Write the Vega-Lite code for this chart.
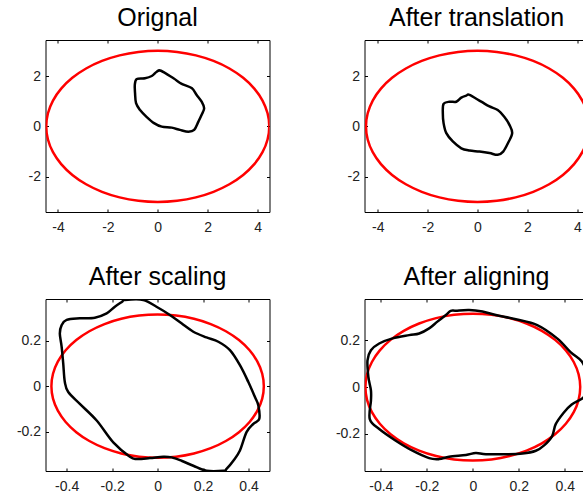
{
  "$schema": "https://vega.github.io/schema/vega-lite/v6.json",
  "padding": {"left": 15.5, "top": 5, "right": 0, "bottom": 0},
  "background": "white",
  "columns": 2,
  "spacing": {"row": 87, "column": 95},
  "bounds": "flush",
  "config": {
    "view": {"stroke": "#000", "strokeWidth": 1},
    "title": {"font": "Liberation Sans", "fontSize": 25, "fontWeight": "normal", "color": "#000", "frame": "group", "anchor": "middle", "baseline": "alphabetic", "offset": 9},
    "axis": {"domain": false, "grid": false, "ticks": true, "tickSize": -3, "tickColor": "#000", "tickWidth": 1, "labelFont": "Liberation Sans", "labelFontSize": 14, "labelColor": "#222", "labelFlush": false, "labelOverlap": false},
    "axisX": {"labelPadding": 11},
    "axisY": {"labelPadding": 8}
  },
  "datasets": {
    "e1": [
      {"i":0,"x":4.47,"y":0},{"i":1,"x":4.402,"y":0.521},{"i":2,"x":4.2,"y":1.026},{"i":3,"x":3.871,"y":1.5},{"i":4,"x":3.424,"y":1.928},{"i":5,"x":2.873,"y":2.298},{"i":6,"x":2.235,"y":2.598},{"i":7,"x":1.529,"y":2.819},{"i":8,"x":0.776,"y":2.954},{"i":9,"x":0,"y":3.0},
      {"i":10,"x":-0.776,"y":2.954},{"i":11,"x":-1.529,"y":2.819},{"i":12,"x":-2.235,"y":2.598},{"i":13,"x":-2.873,"y":2.298},{"i":14,"x":-3.424,"y":1.928},{"i":15,"x":-3.871,"y":1.5},{"i":16,"x":-4.2,"y":1.026},{"i":17,"x":-4.402,"y":0.521},{"i":18,"x":-4.47,"y":0},
      {"i":19,"x":-4.402,"y":-0.521},{"i":20,"x":-4.2,"y":-1.026},{"i":21,"x":-3.871,"y":-1.5},{"i":22,"x":-3.424,"y":-1.928},{"i":23,"x":-2.873,"y":-2.298},{"i":24,"x":-2.235,"y":-2.598},{"i":25,"x":-1.529,"y":-2.819},{"i":26,"x":-0.776,"y":-2.954},{"i":27,"x":0,"y":-3.0},
      {"i":28,"x":0.776,"y":-2.954},{"i":29,"x":1.529,"y":-2.819},{"i":30,"x":2.235,"y":-2.598},{"i":31,"x":2.873,"y":-2.298},{"i":32,"x":3.424,"y":-1.928},{"i":33,"x":3.871,"y":-1.5},{"i":34,"x":4.2,"y":-1.026},{"i":35,"x":4.402,"y":-0.521}
    ],
    "e2": [
      {"i":0,"x":0.467,"y":0},{"i":1,"x":0.46,"y":0.0547},{"i":2,"x":0.4388,"y":0.1077},{"i":3,"x":0.4044,"y":0.1575},{"i":4,"x":0.3577,"y":0.2025},{"i":5,"x":0.3002,"y":0.2413},{"i":6,"x":0.2335,"y":0.2728},{"i":7,"x":0.1597,"y":0.296},{"i":8,"x":0.0811,"y":0.3102},{"i":9,"x":0,"y":0.315},
      {"i":10,"x":-0.0811,"y":0.3102},{"i":11,"x":-0.1597,"y":0.296},{"i":12,"x":-0.2335,"y":0.2728},{"i":13,"x":-0.3002,"y":0.2413},{"i":14,"x":-0.3577,"y":0.2025},{"i":15,"x":-0.4044,"y":0.1575},{"i":16,"x":-0.4388,"y":0.1077},{"i":17,"x":-0.46,"y":0.0547},{"i":18,"x":-0.467,"y":0},
      {"i":19,"x":-0.46,"y":-0.0547},{"i":20,"x":-0.4388,"y":-0.1077},{"i":21,"x":-0.4044,"y":-0.1575},{"i":22,"x":-0.3577,"y":-0.2025},{"i":23,"x":-0.3002,"y":-0.2413},{"i":24,"x":-0.2335,"y":-0.2728},{"i":25,"x":-0.1597,"y":-0.296},{"i":26,"x":-0.0811,"y":-0.3102},{"i":27,"x":0,"y":-0.315},
      {"i":28,"x":0.0811,"y":-0.3102},{"i":29,"x":0.1597,"y":-0.296},{"i":30,"x":0.2335,"y":-0.2728},{"i":31,"x":0.3002,"y":-0.2413},{"i":32,"x":0.3577,"y":-0.2025},{"i":33,"x":0.4044,"y":-0.1575},{"i":34,"x":0.4388,"y":-0.1077},{"i":35,"x":0.46,"y":-0.0547}
    ],
    "c1": [
      {"i":0,"x":0.13,"y":2.21},{"i":1,"x":0.63,"y":1.91},{"i":2,"x":0.96,"y":1.69},{"i":3,"x":1.36,"y":1.52},{"i":4,"x":1.56,"y":1.25},{"i":5,"x":1.76,"y":0.98},{"i":6,"x":1.86,"y":0.72},{"i":7,"x":1.76,"y":0.46},{"i":8,"x":1.63,"y":0.19},{"i":9,"x":1.46,"y":-0.14},{"i":10,"x":1.23,"y":-0.21},{"i":11,"x":0.89,"y":-0.14},{"i":12,"x":0.56,"y":-0.05},{"i":13,"x":0.16,"y":-0.01},{"i":14,"x":-0.15,"y":0.13},{"i":15,"x":-0.44,"y":0.37},{"i":16,"x":-0.71,"y":0.65},{"i":17,"x":-0.87,"y":0.92},{"i":18,"x":-0.91,"y":1.32},{"i":19,"x":-0.92,"y":1.65},{"i":20,"x":-0.84,"y":1.88},{"i":21,"x":-0.51,"y":1.91},{"i":22,"x":-0.24,"y":2.0},{"i":23,"x":-0.04,"y":2.17}
    ],
    "c2": [
      {"i":0,"x":-0.32,"y":1.25},{"i":1,"x":0.15,"y":0.98},{"i":2,"x":0.48,"y":0.79},{"i":3,"x":0.81,"y":0.65},{"i":4,"x":1.08,"y":0.37},{"i":5,"x":1.28,"y":0.06},{"i":6,"x":1.39,"y":-0.27},{"i":7,"x":1.22,"y":-0.67},{"i":8,"x":1.03,"y":-1.0},{"i":9,"x":0.81,"y":-1.13},{"i":10,"x":0.48,"y":-1.06},{"i":11,"x":0.08,"y":-1.0},{"i":12,"x":-0.32,"y":-0.96},{"i":13,"x":-0.65,"y":-0.87},{"i":14,"x":-0.99,"y":-0.6},{"i":15,"x":-1.25,"y":-0.27},{"i":16,"x":-1.36,"y":0.13},{"i":17,"x":-1.39,"y":0.52},{"i":18,"x":-1.36,"y":0.89},{"i":19,"x":-1.12,"y":0.98},{"i":20,"x":-0.85,"y":0.98},{"i":21,"x":-0.65,"y":1.14},{"i":22,"x":-0.45,"y":1.22}
    ],
    "c3": [
      {"i":0,"x":-0.144,"y":0.379},{"i":1,"x":-0.063,"y":0.379},{"i":2,"x":-0.005,"y":0.349},{"i":3,"x":0.054,"y":0.313},{"i":4,"x":0.105,"y":0.276},{"i":5,"x":0.157,"y":0.239},{"i":6,"x":0.215,"y":0.214},{"i":7,"x":0.267,"y":0.195},{"i":8,"x":0.318,"y":0.158},{"i":9,"x":0.362,"y":0.092},{"i":10,"x":0.399,"y":0.018},{"i":11,"x":0.428,"y":-0.048},{"i":12,"x":0.443,"y":-0.085},{"i":13,"x":0.447,"y":-0.144},{"i":14,"x":0.421,"y":-0.166},{"i":15,"x":0.391,"y":-0.202},{"i":16,"x":0.362,"y":-0.283},{"i":17,"x":0.333,"y":-0.328},{"i":18,"x":0.303,"y":-0.364},{"i":19,"x":0.289,"y":-0.372},{"i":20,"x":0.215,"y":-0.372},{"i":21,"x":0.157,"y":-0.35},{"i":22,"x":0.105,"y":-0.328},{"i":23,"x":0.062,"y":-0.313},{"i":24,"x":0.025,"y":-0.31},{"i":25,"x":-0.034,"y":-0.316},{"i":26,"x":-0.092,"y":-0.32},{"i":27,"x":-0.122,"y":-0.31},{"i":28,"x":-0.195,"y":-0.247},{"i":29,"x":-0.268,"y":-0.151},{"i":30,"x":-0.342,"y":-0.078},{"i":31,"x":-0.393,"y":-0.026},{"i":32,"x":-0.408,"y":0.018},{"i":33,"x":-0.415,"y":0.099},{"i":34,"x":-0.422,"y":0.173},{"i":35,"x":-0.43,"y":0.231},{"i":36,"x":-0.422,"y":0.268},{"i":37,"x":-0.4,"y":0.291},{"i":38,"x":-0.342,"y":0.298},{"i":39,"x":-0.276,"y":0.301},{"i":40,"x":-0.224,"y":0.32},{"i":41,"x":-0.188,"y":0.349},{"i":42,"x":-0.156,"y":0.371}
    ],
    "c4": [
      {"i":0,"x":-0.074,"y":0.328},{"i":1,"x":-0.016,"y":0.331},{"i":2,"x":0.042,"y":0.324},{"i":3,"x":0.1,"y":0.309},{"i":4,"x":0.187,"y":0.291},{"i":5,"x":0.28,"y":0.266},{"i":6,"x":0.368,"y":0.208},{"i":7,"x":0.425,"y":0.15},{"i":8,"x":0.474,"y":0.11},{"i":9,"x":0.495,"y":0.06},{"i":10,"x":0.5,"y":0.01},{"i":11,"x":0.49,"y":-0.03},{"i":12,"x":0.474,"y":-0.05},{"i":13,"x":0.43,"y":-0.075},{"i":14,"x":0.395,"y":-0.11},{"i":15,"x":0.36,"y":-0.16},{"i":16,"x":0.345,"y":-0.21},{"i":17,"x":0.31,"y":-0.25},{"i":18,"x":0.274,"y":-0.273},{"i":19,"x":0.216,"y":-0.285},{"i":20,"x":0.143,"y":-0.288},{"i":21,"x":0.057,"y":-0.288},{"i":22,"x":0.013,"y":-0.283},{"i":23,"x":-0.03,"y":-0.291},{"i":24,"x":-0.103,"y":-0.299},{"i":25,"x":-0.146,"y":-0.309},{"i":26,"x":-0.19,"y":-0.305},{"i":27,"x":-0.262,"y":-0.273},{"i":28,"x":-0.335,"y":-0.23},{"i":29,"x":-0.407,"y":-0.18},{"i":30,"x":-0.448,"y":-0.137},{"i":31,"x":-0.443,"y":-0.058},{"i":32,"x":-0.443,"y":-0.014},{"i":33,"x":-0.454,"y":0.043},{"i":34,"x":-0.458,"y":0.115},{"i":35,"x":-0.443,"y":0.158},{"i":36,"x":-0.407,"y":0.187},{"i":37,"x":-0.349,"y":0.209},{"i":38,"x":-0.277,"y":0.223},{"i":39,"x":-0.233,"y":0.23},{"i":40,"x":-0.19,"y":0.252},{"i":41,"x":-0.154,"y":0.281},{"i":42,"x":-0.117,"y":0.309},{"i":43,"x":-0.096,"y":0.327}
    ]
  },
  "concat": [
    {
      "title": "Orignal",
      "width": 224, "height": 172,
      "layer": [
        {
          "data": {"name": "e1"},
          "mark": {"type": "line", "interpolate": "cardinal-closed", "stroke": "#ff0000", "strokeWidth": 2.5, "clip": true},
          "encoding": {
            "x": {"field": "x", "type": "quantitative", "scale": {"domain": [-4.5, 4.48], "nice": false, "zero": false}, "axis": {"orient": "bottom", "title": null, "values": [-4, -2, 0, 2, 4], "labelExpr": "datum.value == 0 ? '0' : replace(datum.label, '\u2212', '-')"}},
            "y": {"field": "y", "type": "quantitative", "scale": {"domain": [-3.4, 3.43], "nice": false, "zero": false}, "axis": {"orient": "left", "title": null, "values": [-2, 0, 2], "labelExpr": "datum.value == 0 ? '0' : replace(datum.label, '\u2212', '-')"}},
            "order": {"field": "i", "type": "quantitative"}
          }
        },
        {
          "data": {"name": "c1"},
          "mark": {"type": "line", "interpolate": "cardinal-closed", "stroke": "#000", "strokeWidth": 2.5, "clip": true},
          "encoding": {
            "x": {"field": "x", "type": "quantitative", "scale": {"domain": [-4.5, 4.48], "nice": false, "zero": false}, "axis": {"orient": "top", "title": null, "values": [-4, -2, 0, 2, 4], "labels": false}},
            "y": {"field": "y", "type": "quantitative", "scale": {"domain": [-3.4, 3.43], "nice": false, "zero": false}, "axis": {"orient": "right", "title": null, "values": [-2, 0, 2], "labels": false}},
            "order": {"field": "i", "type": "quantitative"}
          }
        }
      ]
    },
    {
      "title": "After translation",
      "width": 224, "height": 172,
      "layer": [
        {
          "data": {"name": "e1"},
          "mark": {"type": "line", "interpolate": "cardinal-closed", "stroke": "#ff0000", "strokeWidth": 2.5, "clip": true},
          "encoding": {
            "x": {"field": "x", "type": "quantitative", "scale": {"domain": [-4.53, 4.45], "nice": false, "zero": false}, "axis": {"orient": "bottom", "title": null, "values": [-4, -2, 0, 2, 4], "labelExpr": "datum.value == 0 ? '0' : replace(datum.label, '\u2212', '-')"}},
            "y": {"field": "y", "type": "quantitative", "scale": {"domain": [-3.4, 3.43], "nice": false, "zero": false}, "axis": {"orient": "left", "title": null, "values": [-2, 0, 2], "labelExpr": "datum.value == 0 ? '0' : replace(datum.label, '\u2212', '-')"}},
            "order": {"field": "i", "type": "quantitative"}
          }
        },
        {
          "data": {"name": "c2"},
          "mark": {"type": "line", "interpolate": "cardinal-closed", "stroke": "#000", "strokeWidth": 2.5, "clip": true},
          "encoding": {
            "x": {"field": "x", "type": "quantitative", "scale": {"domain": [-4.53, 4.45], "nice": false, "zero": false}, "axis": {"orient": "top", "title": null, "values": [-4, -2, 0, 2, 4], "labels": false}},
            "y": {"field": "y", "type": "quantitative", "scale": {"domain": [-3.4, 3.43], "nice": false, "zero": false}, "axis": {"orient": "right", "title": null, "values": [-2, 0, 2], "labels": false}},
            "order": {"field": "i", "type": "quantitative"}
          }
        }
      ]
    },
    {
      "title": "After scaling",
      "width": 224, "height": 172,
      "layer": [
        {
          "data": {"name": "e2"},
          "mark": {"type": "line", "interpolate": "cardinal-closed", "stroke": "#ff0000", "strokeWidth": 2.5, "clip": true},
          "encoding": {
            "x": {"field": "x", "type": "quantitative", "scale": {"domain": [-0.493, 0.492], "nice": false, "zero": false}, "axis": {"orient": "bottom", "title": null, "values": [-0.4, -0.2, 0, 0.2, 0.4], "labelExpr": "datum.value == 0 ? '0' : replace(datum.label, '\u2212', '-')"}},
            "y": {"field": "y", "type": "quantitative", "scale": {"domain": [-0.373, 0.383], "nice": false, "zero": false}, "axis": {"orient": "left", "title": null, "values": [-0.2, 0, 0.2], "labelExpr": "datum.value == 0 ? '0' : replace(datum.label, '\u2212', '-')"}},
            "order": {"field": "i", "type": "quantitative"}
          }
        },
        {
          "data": {"name": "c3"},
          "mark": {"type": "line", "interpolate": "cardinal-closed", "stroke": "#000", "strokeWidth": 2.5, "clip": true},
          "encoding": {
            "x": {"field": "x", "type": "quantitative", "scale": {"domain": [-0.493, 0.492], "nice": false, "zero": false}, "axis": {"orient": "top", "title": null, "values": [-0.4, -0.2, 0, 0.2, 0.4], "labels": false}},
            "y": {"field": "y", "type": "quantitative", "scale": {"domain": [-0.373, 0.383], "nice": false, "zero": false}, "axis": {"orient": "right", "title": null, "values": [-0.2, 0, 0.2], "labels": false}},
            "order": {"field": "i", "type": "quantitative"}
          }
        }
      ]
    },
    {
      "title": "After aligning",
      "width": 224, "height": 172,
      "layer": [
        {
          "data": {"name": "e2"},
          "mark": {"type": "line", "interpolate": "cardinal-closed", "stroke": "#ff0000", "strokeWidth": 2.5, "clip": true},
          "encoding": {
            "x": {"field": "x", "type": "quantitative", "scale": {"domain": [-0.471, 0.503], "nice": false, "zero": false}, "axis": {"orient": "bottom", "title": null, "values": [-0.4, -0.2, 0, 0.2, 0.4], "labelExpr": "datum.value == 0 ? '0' : replace(datum.label, '\u2212', '-')"}},
            "y": {"field": "y", "type": "quantitative", "scale": {"domain": [-0.36, 0.378], "nice": false, "zero": false}, "axis": {"orient": "left", "title": null, "values": [-0.2, 0, 0.2], "labelExpr": "datum.value == 0 ? '0' : replace(datum.label, '\u2212', '-')"}},
            "order": {"field": "i", "type": "quantitative"}
          }
        },
        {
          "data": {"name": "c4"},
          "mark": {"type": "line", "interpolate": "cardinal-closed", "stroke": "#000", "strokeWidth": 2.5, "clip": true},
          "encoding": {
            "x": {"field": "x", "type": "quantitative", "scale": {"domain": [-0.471, 0.503], "nice": false, "zero": false}, "axis": {"orient": "top", "title": null, "values": [-0.4, -0.2, 0, 0.2, 0.4], "labels": false}},
            "y": {"field": "y", "type": "quantitative", "scale": {"domain": [-0.36, 0.378], "nice": false, "zero": false}, "axis": {"orient": "right", "title": null, "values": [-0.2, 0, 0.2], "labels": false}},
            "order": {"field": "i", "type": "quantitative"}
          }
        }
      ]
    }
  ]
}
